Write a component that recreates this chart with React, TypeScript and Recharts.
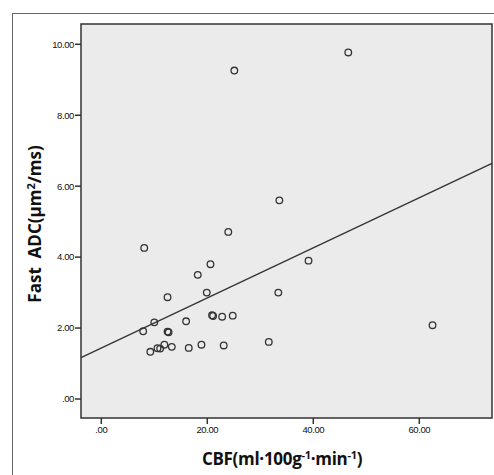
import React from 'react';
import {
  ScatterChart,
  Scatter,
  XAxis,
  YAxis,
  ReferenceArea,
  ReferenceLine,
} from 'recharts';

document.body.style.margin = '0';

// CBF (ml/100g/min)
const cbf = [
  46.6, 25.1, 33.6, 23.96, 8.1, 39.1, 20.6, 18.2, 12.5, 19.9, 33.4, 20.9, 21.1, 22.8,
  24.8, 16.0, 10.0, 7.9, 12.5, 12.7, 62.5, 31.6, 11.9, 18.9, 23.1, 13.3, 16.5, 10.6,
  11.1, 9.25,
];

// Fast ADC (um^2/ms)
const adc = [
  9.77, 9.26, 5.6, 4.71, 4.26, 3.9, 3.8, 3.5, 2.87, 3.0, 3.0, 2.36, 2.34, 2.32,
  2.35, 2.19, 2.16, 1.91, 1.9, 1.88, 2.08, 1.61, 1.53, 1.53, 1.51, 1.47, 1.44, 1.43,
  1.42, 1.33,
];

const xTicks = [0, 20, 40, 60];
const yTicks = [0, 2, 4, 6, 8, 10];

// fitted line
const fitIntercept = 1.438;
const fitSlope = 0.0706;

const X_DOMAIN: [number, number] = [-3.83, 73.72];
const Y_DOMAIN: [number, number] = [-0.536, 10.572];

const points = cbf.map((x, i) => ({ x, y: adc[i] }));

const fmt = (v: number) => (v === 0 ? '.00' : v.toFixed(2));

const tickStyle = {
  fontFamily: 'Liberation Sans, Arial, sans-serif',
  fontSize: 9.5,
  fill: '#111',
  letterSpacing: -0.4,
};

const OpenCircle = (props: any) => {
  const { cx, cy } = props;
  return <circle cx={cx} cy={cy} r={3.3} fill="none" stroke="#333" strokeWidth={1.3} />;
};

const XTitle = () => (
  <text
    x={282}
    y={465}
    textAnchor="middle"
    fontFamily="Open Sans, sans-serif"
    fontWeight="bold"
    fontSize={17}
    fill="#111"
    letterSpacing={-0.3}
  >
    CBF(ml·100g
    <tspan dy={-6} fontSize={11}>-1</tspan>
    <tspan dy={6}>·min</tspan>
    <tspan dy={-6} fontSize={11}>-1</tspan>
    <tspan dy={6}>)</tspan>
  </text>
);

const YTitle = () => (
  <text
    x={0}
    y={0}
    transform="translate(41,224) rotate(-90)"
    textAnchor="middle"
    fontFamily="Open Sans, sans-serif"
    fontWeight="bold"
    fontSize={17}
    fill="#111"
    xmlSpace="preserve"
  >
    Fast  ADC(μm
    <tspan dy={-6} fontSize={11}>2</tspan>
    <tspan dy={6}>/ms)</tspan>
  </text>
);

export default function App() {
  return (
    <div style={{ position: 'relative', width: 494, height: 475, overflow: 'hidden', background: '#fff' }}>
      <div
        style={{
          position: 'absolute',
          left: 12,
          top: 13,
          width: 600,
          height: 600,
          borderLeft: '1.5px solid #666',
          borderTop: '1.5px solid #666',
        }}
      />
      <div style={{ position: 'absolute', left: 0, top: 0 }}>
        <ScatterChart width={494} height={475} margin={{ top: 24, right: 2, bottom: 0, left: 0 }}>
          <ReferenceArea
            x1={X_DOMAIN[0]}
            x2={X_DOMAIN[1]}
            y1={Y_DOMAIN[0]}
            y2={Y_DOMAIN[1]}
            fill="#ebebeb"
            fillOpacity={1}
            stroke="#333"
            strokeWidth={1.5}
          />
          <XAxis
            type="number"
            dataKey="x"
            domain={X_DOMAIN}
            ticks={xTicks}
            tickFormatter={fmt}
            allowDataOverflow
            height={57}
            axisLine={false}
            tickLine={{ stroke: '#333', strokeWidth: 1.5 }}
            tickSize={6}
            tickMargin={2}
            tick={tickStyle}
            label={{ content: () => <XTitle /> }}
          />
          <YAxis
            type="number"
            dataKey="y"
            domain={Y_DOMAIN}
            ticks={yTicks}
            tickFormatter={fmt}
            allowDataOverflow
            width={81}
            axisLine={false}
            tickLine={{ stroke: '#333', strokeWidth: 1.5 }}
            tickSize={6}
            tickMargin={1}
            tick={tickStyle}
            label={{ content: () => <YTitle /> }}
          />
          <ReferenceLine
            segment={[
              { x: X_DOMAIN[0], y: fitIntercept + fitSlope * X_DOMAIN[0] },
              { x: X_DOMAIN[1], y: fitIntercept + fitSlope * X_DOMAIN[1] },
            ]}
            stroke="#333"
            strokeWidth={1.3}
          />
          <Scatter data={points} shape={OpenCircle} isAnimationActive={false} />
        </ScatterChart>
      </div>
    </div>
  );
}
